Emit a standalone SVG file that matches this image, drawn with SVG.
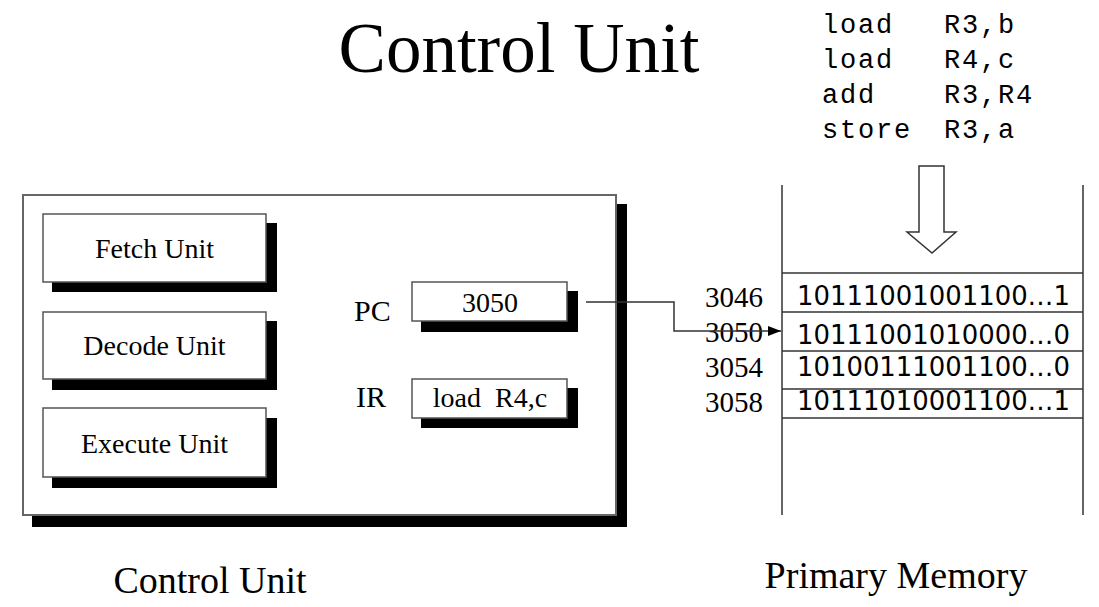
<svg xmlns="http://www.w3.org/2000/svg" width="1099" height="607" viewBox="0 0 1099 607">
<style>
.serif{font-family:"Liberation Serif","Times New Roman",serif;fill:#000}
.mono{font-family:"Liberation Mono","Courier New",monospace;font-size:27px;letter-spacing:1.8px;fill:#000}
.bin{font-family:"DejaVu Sans",Verdana,sans-serif;font-size:26px;fill:#000}
.box{fill:#fff;stroke:#555;stroke-width:1.5}
.shadow{fill:#000}
.mem{stroke:#333;stroke-width:1.5;fill:none}
.unit{font-size:28px}
</style>
<defs>
<marker id="arr" markerWidth="13" markerHeight="10" refX="13" refY="5" orient="auto" markerUnits="userSpaceOnUse">
<path d="M0,0 L13,5 L0,10 Z" fill="#000"/>
</marker>
</defs>
<rect width="1099" height="607" fill="#fff"/>
<text class="serif" x="519" y="72" font-size="71" text-anchor="middle">Control Unit</text>

<g id="code">
<text class="mono" x="822" y="33">load</text><text class="mono" x="944" y="33">R3,b</text>
<text class="mono" x="822" y="68">load</text><text class="mono" x="944" y="68">R4,c</text>
<text class="mono" x="822" y="103">add</text><text class="mono" x="944" y="103">R3,R4</text>
<text class="mono" x="822" y="138">store</text><text class="mono" x="944" y="138">R3,a</text>
</g>

<g id="down-arrow">
<path d="M919,166 L944,166 L944,232 L956,232 L932,253 L907,232 L919,232 Z" fill="#fff" stroke="#333" stroke-width="1.5"/>
</g>

<g id="control-unit">
<rect class="shadow" x="32" y="204" width="595" height="323"/>
<rect x="23" y="195" width="593" height="320" fill="#fff" stroke="#666" stroke-width="2"/>
</g>

<g id="fetch-unit">
<rect class="shadow" x="52" y="223" width="225" height="69"/>
<rect class="box" x="43" y="214" width="223" height="68"/>
<text class="serif unit" x="154.5" y="258" text-anchor="middle">Fetch Unit</text>
</g>
<g id="decode-unit">
<rect class="shadow" x="52" y="321" width="225" height="69"/>
<rect class="box" x="43" y="312" width="223" height="67"/>
<text class="serif unit" x="154.5" y="355" text-anchor="middle">Decode Unit</text>
</g>
<g id="execute-unit">
<rect class="shadow" x="52" y="418" width="225" height="70"/>
<rect class="box" x="43" y="408" width="223" height="69"/>
<text class="serif unit" x="154.5" y="453" text-anchor="middle">Execute Unit</text>
</g>

<g id="pc">
<text class="serif" x="354" y="321" font-size="30">PC</text>
<rect class="shadow" x="421" y="291" width="157" height="41"/>
<rect class="box" x="412" y="282" width="155" height="39"/>
<text class="serif unit" x="490" y="312" text-anchor="middle">3050</text>
</g>
<g id="ir">
<text class="serif" x="356" y="407" font-size="30">IR</text>
<rect class="shadow" x="421" y="388" width="157" height="40"/>
<rect class="box" x="412" y="379" width="155" height="39"/>
<text class="serif unit" x="490" y="407" text-anchor="middle" xml:space="preserve">load  R4,c</text>
</g>

<g id="memory">
<line class="mem" x1="782" y1="185" x2="782" y2="515"/>
<line class="mem" x1="1083" y1="185" x2="1083" y2="515"/>
<line class="mem" x1="782" y1="273" x2="1083" y2="273"/>
<line class="mem" x1="782" y1="312" x2="1083" y2="312"/>
<line class="mem" x1="782" y1="351" x2="1083" y2="351"/>
<line class="mem" x1="782" y1="389" x2="1083" y2="389"/>
<line class="mem" x1="782" y1="418" x2="1083" y2="418"/>
<text class="bin" x="797" y="305" textLength="273" lengthAdjust="spacingAndGlyphs">10111001001100…1</text>
<text class="bin" x="797" y="344" textLength="273" lengthAdjust="spacingAndGlyphs">10111001010000…0</text>
<text class="bin" x="797" y="376" textLength="273" lengthAdjust="spacingAndGlyphs">10100111001100…0</text>
<text class="bin" x="797" y="410" textLength="273" lengthAdjust="spacingAndGlyphs">10111010001100…1</text>
<text class="serif" x="705" y="307" font-size="29">3046</text>
<text class="serif" x="705" y="342" font-size="29">3050</text>
<text class="serif" x="705" y="377" font-size="29">3054</text>
<text class="serif" x="705" y="412" font-size="29">3058</text>
</g>

<g id="connectors">
<polyline points="586,302 674,302 674,331 781,331" fill="none" stroke="#333" stroke-width="1.5" marker-end="url(#arr)"/>
</g>

<text class="serif" x="210" y="593" font-size="38" text-anchor="middle">Control Unit</text>
<text class="serif" x="896" y="588" font-size="38" text-anchor="middle">Primary Memory</text>
</svg>
